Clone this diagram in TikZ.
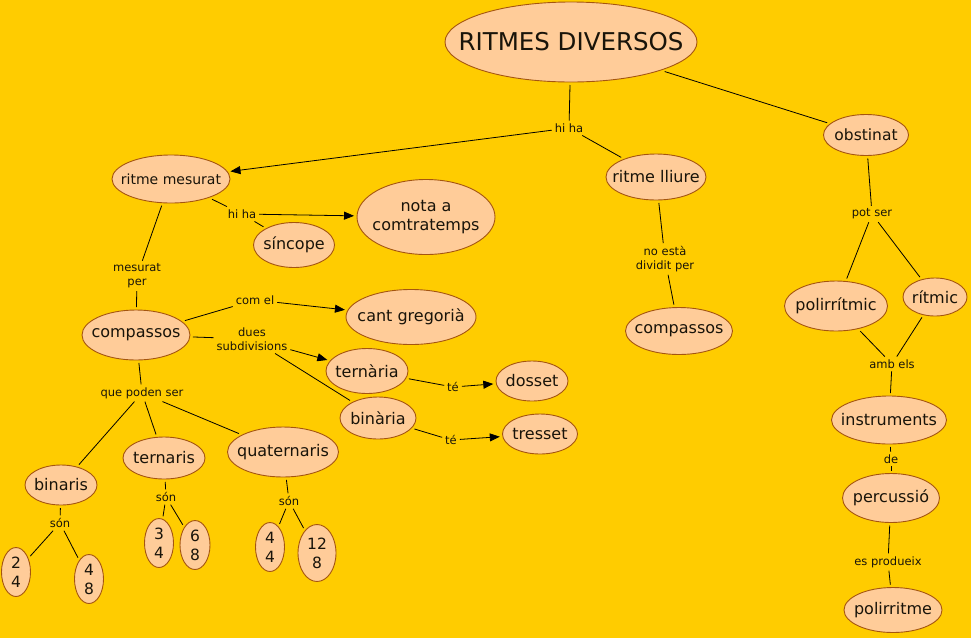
\documentclass[tikz,border=0pt]{standalone}
\usepackage{fontspec}
\setmainfont{DejaVu Sans}
\usetikzlibrary{shapes.geometric,arrows.meta}
\definecolor{bg}{RGB}{255,204,0}
\definecolor{peach}{RGB}{255,204,153}
\definecolor{rim}{RGB}{165,85,15}
\definecolor{ink}{RGB}{25,20,10}
\begin{document}
\begin{tikzpicture}[x=1pt,y=-1pt,
 concept/.style={ellipse,draw=rim,fill=peach,line width=0.9pt,inner sep=-40pt,outer sep=3pt,text=ink,font=\fontsize{16}{19}\selectfont,align=center},
 frac/.style={concept,font=\fontsize{15.5}{19}\selectfont},
 lnk/.style={inner sep=1pt,outer sep=2pt,text=ink,font=\fontsize{11.5}{14}\selectfont,align=center},
 conn/.style={draw=black,line width=0.8pt},
 arr/.style={conn,-{Triangle[length=10pt,width=8pt]}}]
\fill[bg] (0,0) rectangle (971,638);
\useasboundingbox (0,0) rectangle (971,638);

% concepts
\node[concept,minimum width=252,minimum height=80,font=\fontsize{24.5}{28}\selectfont] (rd) at (571,42) {RITMES DIVERSOS};
\node[concept,minimum width=85,minimum height=41,font=\fontsize{15.5}{18}\selectfont] (obs) at (866,135) {obstinat};
\node[concept,minimum width=100,minimum height=46] (rl) at (656,177) {ritme lliure};
\node[concept,minimum width=118,minimum height=48,font=\fontsize{14}{17}\selectfont] (rm) at (171,179) {ritme mesurat};
\node[concept,minimum width=138,minimum height=75] (nota) at (426,217) {nota a\\comtratemps};
\node[concept,minimum width=81,minimum height=45] (sinc) at (294,245) {síncope};
\node[concept,minimum width=108,minimum height=50] (comp) at (136,335) {compassos};
\node[concept,minimum width=130,minimum height=55] (cant) at (411,317) {cant gregorià};
\node[concept,minimum width=82,minimum height=45] (tern) at (367,371) {ternària};
\node[concept,minimum width=72,minimum height=40] (dos) at (532,381) {dosset};
\node[concept,minimum width=76,minimum height=42] (bin) at (378,418) {binària};
\node[concept,minimum width=75,minimum height=40] (tres) at (540,434) {tresset};
\node[concept,minimum width=72,minimum height=40] (bins) at (61,485) {binaris};
\node[concept,minimum width=82,minimum height=42] (terns) at (164,458) {ternaris};
\node[concept,minimum width=111,minimum height=50] (quat) at (283,452) {quaternaris};
\node[frac,minimum width=29,minimum height=49] (f24) at (16,572) {2\\4};
\node[frac,minimum width=29,minimum height=49] (f48) at (89,579) {4\\8};
\node[frac,minimum width=29,minimum height=49] (f34) at (159,543) {3\\4};
\node[frac,minimum width=30,minimum height=49] (f68) at (195,545) {6\\8};
\node[frac,minimum width=29,minimum height=49] (f44) at (270,547) {4\\4};
\node[frac,minimum width=38,minimum height=57] (f128) at (317,553) {12\\8};
\node[concept,minimum width=107,minimum height=47] (comp2) at (679,331) {compassos};
\node[concept,minimum width=103,minimum height=50] (poli) at (836,306) {polirrítmic};
\node[concept,minimum width=64,minimum height=38] (rit) at (935,297) {rítmic};
\node[concept,minimum width=115,minimum height=48] (inst) at (889,420) {instruments};
\node[concept,minimum width=97,minimum height=49] (perc) at (891,498) {percussió};
\node[concept,minimum width=98,minimum height=45] (polr) at (893,610) {polirritme};

% linking phrases
\node[lnk] (l1) at (569,128) {hi ha};
\node[lnk] (l2) at (242,214) {hi ha};
\node[lnk] (l3) at (137,276) {mesurat\\per};
\node[lnk] (l4) at (255,300) {com el};
\node[lnk] (l5) at (252,339) {dues\\subdivisions};
\node[lnk] (l6) at (142,393) {que poden ser};
\node[lnk] (l7) at (453,387) {té};
\node[lnk] (l8) at (451,440) {té};
\node[lnk] (l9) at (60,523) {són};
\node[lnk] (l10) at (166,497) {són};
\node[lnk] (l11) at (289,501) {són};
\node[lnk] (l12) at (665,259) {no està\\dividit per};
\node[lnk] (l13) at (872,214) {pot ser};
\node[lnk] (l14) at (892,364) {amb els};
\node[lnk] (l15) at (891,459) {de};
\node[lnk] (l16) at (888,562) {es produeix};

% connectors
\draw[conn] (rd) -- (l1);
\draw[arr] (l1) -- (rm);
\draw[conn] (l1) -- (rl);
\draw[conn] (rd) -- (obs);
\draw[conn] (rm) -- (l2);
\draw[arr] (l2) -- (nota);
\draw[conn] (l2) -- (sinc);
\draw[conn] (rm) -- (l3);
\draw[conn] (l3) -- (comp);
\draw[conn] (comp) -- (l4);
\draw[arr] (l4) -- (cant);
\draw[conn] (comp) -- (l5);
\draw[arr] (l5) -- (tern);
\draw[conn] (l5) -- (bin);
\draw[conn] (comp) -- (l6);
\draw[conn] (l6) -- (bins);
\draw[conn] (l6) -- (terns);
\draw[conn] (l6) -- (quat);
\draw[conn] (tern) -- (l7);
\draw[arr] (l7) -- (dos);
\draw[conn] (bin) -- (l8);
\draw[arr] (l8) -- (tres);
\draw[conn] (bins) -- (l9);
\draw[conn] (l9) -- (f24);
\draw[conn] (l9) -- (f48);
\draw[conn] (terns) -- (l10);
\draw[conn] (l10) -- (f34);
\draw[conn] (l10) -- (f68);
\draw[conn] (quat) -- (l11);
\draw[conn] (l11) -- (f44);
\draw[conn] (l11) -- (f128);
\draw[conn] (rl) -- (l12);
\draw[conn] (l12) -- (comp2);
\draw[conn] (obs) -- (l13);
\draw[conn] (l13) -- (poli);
\draw[conn] (l13) -- (rit);
\draw[conn] (poli) -- (l14);
\draw[conn] (rit) -- (l14);
\draw[conn] (l14) -- (inst);
\draw[conn] (inst) -- (l15);
\draw[conn] (l15) -- (perc);
\draw[conn] (perc) -- (l16);
\draw[conn] (l16) -- (polr);
\end{tikzpicture}
\end{document}
